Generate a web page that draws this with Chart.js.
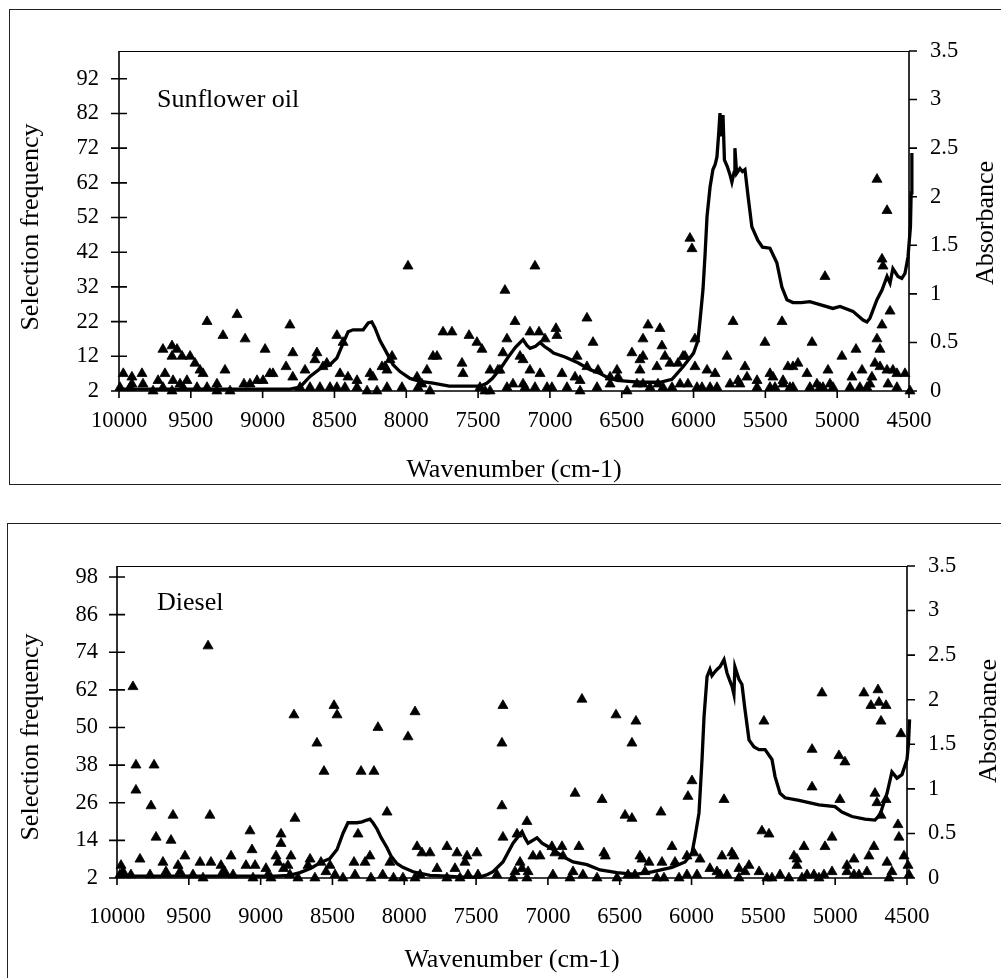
<!DOCTYPE html>
<html>
<head>
<meta charset="utf-8">
<title>Selection frequency and absorbance spectra</title>
<script src="https://cdn.jsdelivr.net/npm/chart.js@4.4.1/dist/chart.umd.min.js"></script>
<style>
  html, body { margin: 0; padding: 0; background: #fff; overflow: hidden; }
  #page { position: relative; width: 1001px; height: 978px; overflow: hidden; background: #fff; }
  .frame { position: absolute; border: 1.5px solid #222; box-sizing: border-box; }
  canvas { position: absolute; left: 0; }
</style>
</head>
<body>
<div id="page">
  <div class="frame" style="left:9px; top:9px; width:1100px; height:476px;"></div>
  <div class="frame" style="left:7px; top:523px; width:1100px; height:600px;"></div>
  <canvas id="oilChart" width="1001" height="490" style="top:0px;"></canvas>
  <canvas id="dieselChart" width="1001" height="488" style="top:490px;"></canvas>
</div>
<script>
// ---- tick labels ----
const waveTicks = [10000, 9500, 9000, 8500, 8000, 7500, 7000, 6500, 6000, 5500, 5000, 4500];
const absTicks = [0, 0.5, 1, 1.5, 2, 2.5, 3, 3.5];
const oilFreqTicks = [2, 12, 22, 32, 42, 52, 62, 72, 82, 92];
const dieselFreqTicks = [2, 14, 26, 38, 50, 62, 74, 86, 98];

// ---- sunflower oil: absorbance spectrum ----
const oilSpecWave = [10000, 9800, 9600, 9400, 9200, 9000, 8810, 8740, 8670, 8600, 8531, 8483, 8440, 8405, 8370, 8330, 8300, 8265, 8240, 8218,
  8183, 8135, 8092, 8044, 7974, 7904, 7814, 7700, 7600, 7487, 7440, 7400, 7340, 7290, 7240, 7187, 7160, 7138, 7100, 7069,
  7040, 7000, 6975, 6895, 6805, 6720, 6650, 6600, 6533, 6450, 6373, 6300, 6234, 6150, 6073, 6000, 5969, 5950, 5934, 5920,
  5906, 5885, 5865, 5850, 5837, 5825, 5816, 5805, 5795, 5785, 5765, 5745, 5733, 5718, 5712, 5700, 5677, 5660, 5642, 5620,
  5594, 5552, 5520, 5468, 5420, 5385, 5350, 5308, 5250, 5190, 5120, 5030, 4980, 4890, 4820, 4793, 4772, 4723, 4688, 4653,
  4632, 4612, 4577, 4550, 4528, 4507, 4490, 4485, 4480];
const oilAbs = [0.02, 0.02, 0.02, 0.02, 0.02, 0.02, 0.02, 0.04, 0.15, 0.23, 0.27, 0.34, 0.49, 0.61, 0.63, 0.63, 0.63, 0.70, 0.71, 0.65,
  0.52, 0.39, 0.27, 0.20, 0.13, 0.10, 0.08, 0.05, 0.05, 0.05, 0.08, 0.13, 0.24, 0.35, 0.45, 0.53, 0.47, 0.44, 0.46, 0.50,
  0.46, 0.42, 0.39, 0.35, 0.29, 0.22, 0.18, 0.14, 0.11, 0.10, 0.09, 0.09, 0.09, 0.12, 0.25, 0.39, 0.52, 0.80, 1.05, 1.40,
  1.80, 2.10, 2.28, 2.33, 2.41, 2.65, 2.86, 2.62, 2.84, 2.38, 2.31, 2.22, 2.15, 2.25, 2.50, 2.24, 2.29, 2.26, 2.28, 2.00,
  1.69, 1.55, 1.48, 1.47, 1.32, 1.07, 0.94, 0.91, 0.91, 0.92, 0.89, 0.85, 0.87, 0.82, 0.73, 0.71, 0.75, 0.94, 1.04, 1.18,
  1.11, 1.26, 1.18, 1.16, 1.21, 1.38, 1.69, 2.04, 2.45];

// ---- sunflower oil: selection frequency per wavenumber ----
const oilSelection = [
  [9970, 7], [9910, 6], [9840, 7], [9910, 4], [9833, 4], [9728, 5], [9680, 7], [9694, 14], [9631, 15], [9596, 14],
  [9631, 12], [9561, 12], [9505, 12], [9471, 10], [9436, 8], [9415, 7], [9624, 5], [9527, 5], [9575, 4], [9387, 22],
  [9276, 18], [9262, 8], [9178, 24], [9122, 17], [9318, 4], [9130, 4], [9088, 4], [9039, 5], [8997, 5], [8983, 14],
  [8950, 7], [8928, 7], [8810, 21], [8790, 13], [8837, 9], [8790, 6], [8705, 8], [8636, 11], [8622, 13], [8580, 9],
  [8553, 10], [8483, 18], [8440, 16], [8461, 7], [8406, 6], [8343, 5], [8252, 7], [8232, 6], [8169, 9], [8148, 9],
  [8113, 11], [8099, 12], [8134, 8], [8030, 3], [7988, 38], [7925, 6], [7891, 4], [7856, 8], [7814, 12], [7786, 12],
  [7744, 19], [7682, 19], [7612, 10], [7605, 7], [7563, 18], [7508, 16], [7473, 14], [7417, 8], [7362, 8], [7348, 8],
  [7327, 13], [7313, 31], [7299, 17], [7243, 22], [7208, 12], [7187, 11], [7139, 19], [7139, 8], [7104, 38], [7076, 19],
  [7069, 7], [7034, 17], [6958, 20], [6951, 18], [6916, 7], [6825, 6], [6811, 12], [6790, 5], [6742, 23], [6742, 9],
  [6700, 16], [6665, 8], [6581, 6], [6533, 8], [6526, 6], [6429, 13], [6373, 11], [6373, 8], [6352, 17], [6352, 12],
  [6317, 21], [6255, 9], [6234, 20], [6220, 15], [6199, 12], [6164, 10], [6108, 10], [6073, 12], [6059, 12], [6025, 46],
  [6011, 43], [5990, 17], [5990, 9], [5906, 8], [5850, 7], [5767, 12], [5725, 22], [5690, 5], [5642, 9], [5628, 6],
  [5558, 5], [5503, 16], [5468, 7], [5447, 6], [5384, 22], [5377, 5], [5343, 9], [5308, 9], [5273, 10], [5210, 7],
  [5175, 16], [5085, 35], [5064, 8], [4967, 12], [4897, 6], [4869, 14], [4827, 8], [4758, 6], [4737, 10], [4723, 63],
  [4723, 17], [4702, 14], [4702, 9], [4688, 21], [4688, 40], [4681, 38], [4653, 54], [4653, 8], [4632, 25], [4612, 8],
  [4584, 7], [4528, 7],
  [9993, 3], [9923, 3], [9763, 2], [9694, 3], [9631, 2], [9554, 3], [9457, 3], [9387, 3], [9318, 2], [9227, 2],
  [8740, 3], [8670, 3], [8601, 3], [8531, 3], [8483, 3], [8427, 3], [8343, 3], [8273, 2], [8204, 2], [8134, 3],
  [7918, 3], [7835, 2], [7487, 3], [7452, 2], [7417, 2], [7299, 3], [7257, 4], [7187, 4], [7173, 3], [7104, 3],
  [7020, 3], [6986, 3], [6881, 3], [6790, 2], [6672, 3], [6581, 4], [6463, 2], [6394, 4], [6352, 4], [6303, 3],
  [6248, 4], [6213, 3], [6150, 3], [6094, 4], [6039, 4], [5976, 3], [5941, 3], [5885, 3], [5837, 3], [5746, 4],
  [5677, 4], [5558, 3], [5468, 3], [5433, 3], [5377, 4], [5329, 3], [5308, 3], [5190, 3], [5141, 4], [5120, 3],
  [5099, 3], [5050, 4], [5029, 3], [4911, 3], [4842, 3], [4793, 3], [4772, 4], [4646, 4], [4584, 3], [4493, 2]
];

// ---- diesel: absorbance spectrum ----
const dieselSpecWave = [10000, 9700, 9400, 9100, 8900, 8800, 8726, 8650, 8587, 8517, 8468, 8427, 8392, 8360, 8330, 8294, 8260, 8239, 8218, 8190,
  8160, 8120, 8090, 8050, 8010, 7939, 7821, 7700, 7600, 7473, 7420, 7382, 7313, 7243, 7180, 7160, 7138, 7076, 7041, 6985,
  6895, 6825, 6728, 6637, 6519, 6394, 6275, 6136, 6045, 5997, 5976, 5948, 5927, 5913, 5892, 5872, 5858, 5844, 5823, 5802,
  5774, 5753, 5735, 5718, 5705, 5698, 5670, 5649, 5628, 5600, 5565, 5530, 5488, 5440, 5419, 5384, 5349, 5252, 5113, 5001,
  4953, 4883, 4793, 4723, 4688, 4639, 4605, 4570, 4535, 4500, 4490, 4482];
const dieselAbs = [0.02, 0.02, 0.02, 0.02, 0.02, 0.03, 0.06, 0.11, 0.17, 0.22, 0.32, 0.50, 0.62, 0.62, 0.62, 0.63, 0.65, 0.66, 0.62, 0.55,
  0.45, 0.34, 0.24, 0.16, 0.12, 0.07, 0.03, 0.02, 0.01, 0.01, 0.04, 0.07, 0.18, 0.39, 0.52, 0.45, 0.39, 0.45, 0.39, 0.34,
  0.24, 0.18, 0.15, 0.09, 0.06, 0.04, 0.07, 0.12, 0.18, 0.28, 0.46, 0.73, 1.33, 1.81, 2.26, 2.34, 2.27, 2.30, 2.34, 2.37,
  2.45, 2.30, 2.22, 2.15, 2.06, 2.37, 2.23, 2.17, 1.89, 1.55, 1.47, 1.44, 1.44, 1.33, 1.14, 0.95, 0.90, 0.87, 0.82, 0.80,
  0.74, 0.69, 0.66, 0.65, 0.71, 0.95, 1.19, 1.12, 1.16, 1.33, 1.50, 1.78];

// ---- diesel: selection frequency per wavenumber ----
const dieselSelection = [
  [9972, 6], [9958, 4], [9889, 63], [9868, 38], [9868, 30], [9840, 8], [9763, 25], [9742, 38], [9728, 15], [9680, 7],
  [9659, 4], [9624, 14], [9610, 22], [9575, 6], [9527, 9], [9422, 7], [9366, 76], [9353, 22], [9346, 7], [9276, 6],
  [9250, 4], [9206, 9], [9102, 6], [9074, 17], [9060, 11], [9039, 6], [8963, 5], [8893, 9], [8879, 7], [8858, 16],
  [8858, 13], [8840, 5], [8810, 6], [8789, 9], [8768, 54], [8761, 21], [8670, 6], [8656, 8], [8608, 45], [8580, 7],
  [8559, 36], [8545, 4], [8517, 6], [8489, 57], [8468, 54], [8350, 7], [8322, 16], [8301, 36], [8273, 7], [8239, 9],
  [8211, 36], [8183, 50], [8120, 23], [8100, 7], [7974, 47], [7925, 55], [7911, 12], [7877, 10], [7821, 10], [7772, 5],
  [7703, 12], [7647, 5], [7633, 10], [7577, 7], [7563, 9], [7494, 10], [7313, 57], [7320, 45], [7320, 25], [7313, 15],
  [7215, 16], [7194, 7], [7180, 5], [7146, 20], [7138, 4], [7104, 9], [7055, 9], [6972, 12], [6951, 10], [6902, 12],
  [6895, 9], [6825, 4], [6811, 29], [6784, 12], [6763, 59], [6623, 27], [6610, 10], [6600, 9], [6526, 54], [6463, 22],
  [6415, 21], [6415, 45], [6387, 52], [6359, 9], [6345, 8], [6296, 7], [6213, 23], [6206, 7], [6136, 12], [6115, 7],
  [6032, 9], [6025, 28], [5997, 33], [5983, 10], [5941, 8], [5788, 9], [5774, 27], [5719, 10], [5705, 9], [5670, 5],
  [5600, 6], [5510, 17], [5496, 52], [5461, 16], [5287, 9], [5266, 8], [5266, 6], [5217, 12], [5161, 43], [5161, 31],
  [5092, 61], [5071, 12], [5022, 15], [4974, 41], [4967, 27], [4932, 39], [4918, 6], [4869, 8], [4800, 61], [4765, 9],
  [4751, 57], [4730, 12], [4723, 29], [4709, 26], [4702, 62], [4695, 58], [4681, 52], [4681, 22], [4646, 57], [4646, 27],
  [4639, 7], [4605, 4], [4563, 19], [4556, 15], [4542, 48], [4521, 9], [4493, 6],
  [9980, 3], [9903, 3], [9770, 3], [9561, 4], [9471, 3], [9401, 2], [9262, 4], [9192, 3], [9053, 2], [8949, 3],
  [8928, 2], [8796, 3], [8740, 2], [8622, 2], [8482, 3], [8427, 2], [8343, 3], [8232, 2], [8150, 3], [8075, 2],
  [8009, 2], [7925, 2], [7890, 3], [7703, 2], [7612, 2], [7556, 3], [7487, 3], [7355, 3], [7243, 2], [7229, 4],
  [7146, 2], [6965, 3], [6846, 2], [6756, 3], [6658, 2], [6519, 2], [6442, 3], [6394, 3], [6324, 4], [6241, 2],
  [6192, 2], [6087, 2], [6032, 3], [5962, 3], [5872, 5], [5823, 4], [5802, 3], [5753, 3], [5670, 2], [5628, 4],
  [5530, 4], [5475, 2], [5440, 2], [5384, 3], [5322, 2], [5231, 2], [5196, 3], [5148, 3], [5113, 2], [5078, 3],
  [5022, 4], [4918, 4], [4869, 3], [4834, 3], [4779, 4], [4625, 2], [4486, 3]
];

const SERIF = "'Liberation Serif', 'Times New Roman', serif";
Chart.defaults.font.family = SERIF;
Chart.defaults.color = '#000';

// Plot box and tick marks: crossing ticks on the left axis, outside ticks elsewhere.
const axisFrame = {
  id: 'axisFrame',
  beforeDatasetsDraw(chart) {
    const { ctx, chartArea: a, scales } = chart;
    ctx.save();
    ctx.strokeStyle = '#000';
    ctx.lineWidth = 1;
    ctx.beginPath();
    ctx.moveTo(a.left, a.top + 0.5);
    ctx.lineTo(a.right, a.top + 0.5);
    ctx.stroke();
    ctx.lineWidth = 1.6;
    ctx.beginPath();
    ctx.moveTo(a.left, a.top);
    ctx.lineTo(a.left, a.bottom);
    ctx.lineTo(a.right, a.bottom);
    ctx.lineTo(a.right, a.top);
    scales.x.ticks.forEach(t => {
      const px = scales.x.getPixelForValue(t.value);
      ctx.moveTo(px, a.bottom); ctx.lineTo(px, a.bottom + 7);
    });
    scales.y.ticks.forEach(t => {
      const py = scales.y.getPixelForValue(t.value);
      ctx.moveTo(a.left - 8, py); ctx.lineTo(a.left + 8, py);
    });
    scales.y2.ticks.forEach(t => {
      const py = scales.y2.getPixelForValue(t.value);
      ctx.moveTo(a.right, py); ctx.lineTo(a.right + 8, py);
    });
    ctx.stroke();
    ctx.restore();
  }
};

// Sample name inside the plot area, and both vertical axis titles
// (each written bottom-to-top).
const chartText = {
  id: 'chartText',
  afterDraw(chart, args, opts) {
    const { ctx } = chart;
    ctx.save();
    ctx.font = '26px ' + SERIF;
    ctx.fillStyle = '#000';
    ctx.textBaseline = 'middle';
    ctx.textAlign = 'left';
    ctx.fillText(opts.label.text, opts.label.x, opts.label.y);
    ctx.textAlign = 'center';
    [opts.leftTitle, opts.rightTitle].forEach(t => {
      ctx.save();
      ctx.translate(t.x, t.y);
      ctx.rotate(-Math.PI / 2);
      ctx.fillText(t.text, 0, 0);
      ctx.restore();
    });
    ctx.restore();
  }
};

function fixedTicks(values) {
  return scale => { scale.ticks = values.map(v => ({ value: v })); };
}

function buildChart(canvasId, spec) {
  const canvas = document.getElementById(canvasId);
  const H = canvas.height, W = canvas.width;
  const specPoints = spec.specWave.map((w, i) => ({ x: w, y: spec.abs[i] }));
  const selPoints = spec.selection.map(p => ({ x: p[0], y: p[1] }));

  return new Chart(canvas, {
    type: 'scatter',
    data: {
      datasets: [
        {
          label: 'Absorbance',
          data: specPoints,
          yAxisID: 'y2',
          showLine: true,
          borderColor: '#000',
          borderWidth: 3.3,
          pointRadius: 0,
          tension: 0,
          fill: false,
          clip: false
        },
        {
          label: 'Selection frequency',
          data: selPoints,
          yAxisID: 'y',
          showLine: false,
          pointStyle: 'triangle',
          pointRadius: 5.8,
          backgroundColor: '#000',
          borderColor: '#000',
          borderWidth: 0.8,
          clip: false
        }
      ]
    },
    options: {
      responsive: false,
      animation: false,
      devicePixelRatio: 1,
      layout: { padding: { top: spec.area.top, left: 0, right: 0, bottom: 0 } },
      plugins: {
        legend: { display: false },
        tooltip: { enabled: false },
        chartText: {
          label: { text: spec.label, x: 157, y: spec.labelY },
          leftTitle: { text: 'Selection frequency', x: 31, y: spec.leftTitleY },
          rightTitle: { text: 'Absorbance', x: spec.rightTitleX, y: spec.rightTitleY }
        }
      },
      scales: {
        x: {
          type: 'linear',
          reverse: true,
          min: 4500,
          max: 10000,
          afterBuildTicks: fixedTicks(waveTicks),
          afterFit: s => { s.height = H - spec.area.bottom; },
          grid: { display: false, drawTicks: false },
          border: { display: false },
          ticks: {
            padding: spec.xTickPad, autoSkip: false, maxRotation: 0, color: '#000',
            font: { size: 22.5 }, callback: v => String(v)
          },
          title: {
            display: true, text: 'Wavenumber (cm-1)', color: '#000',
            font: { size: 26 }, padding: { top: 0, bottom: spec.xTitlePad }
          }
        },
        y: {
          position: 'left',
          min: 2,
          max: spec.freqMax,
          afterBuildTicks: fixedTicks(spec.freqTicks),
          afterFit: s => { s.width = spec.area.left; },
          grid: { display: false, drawTicks: false },
          border: { display: false },
          ticks: { padding: spec.yTickPad, color: '#000', font: { size: 22.5 }, callback: v => String(v) },
          title: { display: false }
        },
        y2: {
          position: 'right',
          min: 0,
          max: 3.5,
          afterBuildTicks: fixedTicks(absTicks),
          afterFit: s => { s.width = W - spec.area.right; },
          grid: { display: false, drawTicks: false },
          border: { display: false },
          ticks: { padding: 21, color: '#000', font: { size: 22.5 }, callback: v => String(v) },
          title: { display: false }
        }
      }
    },
    plugins: [axisFrame, chartText]
  });
}

buildChart('oilChart', {
  label: 'Sunflower oil',
  labelY: 100,
  leftTitleY: 227,
  rightTitleX: 986,
  rightTitleY: 223,
  specWave: oilSpecWave,
  abs: oilAbs,
  selection: oilSelection,
  freqTicks: oilFreqTicks,
  freqMax: 100,
  area: { left: 119, right: 909, top: 51, bottom: 391 },
  xTickPad: 17,
  xTitlePad: 4,
  yTickPad: 20
});

buildChart('dieselChart', {
  label: 'Diesel',
  labelY: 113,
  leftTitleY: 247,
  rightTitleX: 989,
  rightTitleY: 231,
  specWave: dieselSpecWave,
  abs: dieselAbs,
  selection: dieselSelection,
  freqTicks: dieselFreqTicks,
  freqMax: 101.5,
  area: { left: 117, right: 907, top: 76, bottom: 388 },
  xTickPad: 26,
  xTitlePad: 2,
  yTickPad: 19
});
</script>
</body>
</html>
